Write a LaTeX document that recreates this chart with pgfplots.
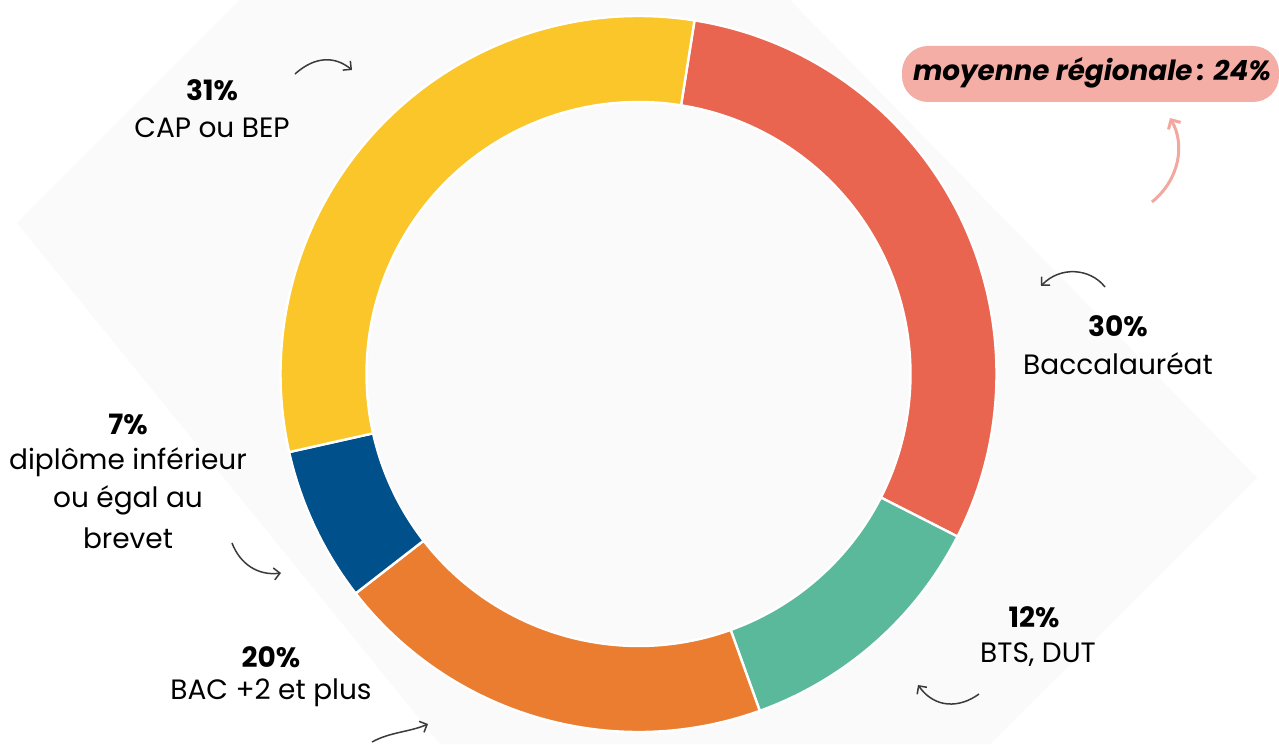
\documentclass[border=0pt]{standalone}
\usepackage{pgfplots}
\pgfplotsset{compat=1.18}
\usepackage{pgfplotstable}
\usetikzlibrary{arrows.meta}
\usepackage{fontspec}
\setmainfont{Poppins}

\definecolor{cred}{HTML}{E9654F}
\definecolor{cyellow}{HTML}{FAC62A}
\definecolor{cgreen}{HTML}{5BB99B}
\definecolor{corange}{HTML}{EA7D30}
\definecolor{cblue}{HTML}{00508B}
\definecolor{cpill}{HTML}{F5AEA5}
\definecolor{carrowpink}{HTML}{F2A89E}
\definecolor{bgshape}{HTML}{FAFAFA}
\definecolor{arrowgray}{HTML}{3A3A3A}

% share (%) of each category, clockwise from the top
\pgfplotstableread{
idx value
0 30
1 12
2 20
3 7
4 31
}\donutdata

\newcommand\donutwedge[3]{%
  \fill[overlay, #3, draw=white, line width=1.2pt]
    (axis cs:{638.5+358*cos(#1)},{370+358*sin(#1)})
    arc[start angle=#1, end angle=#2, radius=179pt]
    -- (axis cs:{638.5+272*cos(#2)},{370+272*sin(#2)})
    arc[start angle=#2, end angle=#1, radius=136pt] -- cycle;}

\newcommand\pct[1]{{\fontsize{14}{16}\selectfont\bfseries #1}}
\newcommand\lab[1]{{\fontsize{14}{16}\selectfont #1}}

\begin{document}
\begin{tikzpicture}
\pgfplotstablegetelem{0}{value}\of\donutdata \let\vA\pgfplotsretval
\pgfplotstablegetelem{1}{value}\of\donutdata \let\vB\pgfplotsretval
\pgfplotstablegetelem{2}{value}\of\donutdata \let\vC\pgfplotsretval
\pgfplotstablegetelem{3}{value}\of\donutdata \let\vD\pgfplotsretval
\pgfplotstablegetelem{4}{value}\of\donutdata \let\vE\pgfplotsretval
\pgfmathsetmacro\aZero{81}
\pgfmathsetmacro\aOne{\aZero-3.6*\vA}
\pgfmathsetmacro\aTwo{\aOne-3.6*\vB}
\pgfmathsetmacro\aThree{\aTwo-3.6*\vC}
\pgfmathsetmacro\aFour{\aThree-3.6*\vD}
\pgfmathsetmacro\aFive{\aFour-3.6*\vE}
\begin{axis}[x=0.5pt, y=0.5pt, xmin=0, xmax=1279, ymin=0, ymax=744,
  hide axis, clip=false]
  \fill[white] (axis cs:0,0) rectangle (axis cs:1279,744);
  \fill[bgshape, overlay] (axis cs:17,521) -- (axis cs:240,744) -- (axis cs:790,744)
     -- (axis cs:1257,266) -- (axis cs:990,0) -- (axis cs:440,0) -- cycle;

  \donutwedge{\aZero}{\aOne}{cred}
  \donutwedge{\aOne}{\aTwo}{cgreen}
  \donutwedge{\aTwo}{\aThree}{corange}
  \donutwedge{\aThree}{\aFour}{cblue}
  \donutwedge{\aFour}{\aFive}{cyellow}

  % labels
  \node at (axis cs:212,654) {\pct{31\%}};
  \node at (axis cs:212,616) {\lab{CAP ou BEP}};
  \node at (axis cs:1118,418) {\pct{30\%}};
  \node at (axis cs:1118,380) {\lab{Baccalauréat}};
  \node at (axis cs:128,320) {\pct{7\%}};
  \node at (axis cs:128,282) {\lab{diplôme inférieur}};
  \node at (axis cs:128,244) {\lab{ou égal au}};
  \node at (axis cs:128,206) {\lab{brevet}};
  \node at (axis cs:271,87) {\pct{20\%}};
  \node at (axis cs:271,51) {\lab{BAC +2 et plus}};
  \node at (axis cs:1034,127) {\pct{12\%}};
  \node at (axis cs:1038,89) {\lab{BTS, DUT}};

  % pill
  \fill[cpill, rounded corners=13pt] (axis cs:902,642) rectangle (axis cs:1279,698);
  \node[inner sep=0pt] at (axis cs:1092,671) {{\fontsize{13.9}{16}\selectfont\bfseries\itshape moyenne régionale\,: 24\%}};

  % hand-drawn arrows
  \begin{scope}[overlay, arrowgray, line width=0.75pt, -{Straight Barb[length=3pt,width=6pt]}]
    \draw (axis cs:295,670) .. controls (axis cs:315,688) and (axis cs:335,688) .. (axis cs:352,674);
    \draw (axis cs:1105,457) .. controls (axis cs:1090,476) and (axis cs:1060,478) .. (axis cs:1041,458);
    \draw (axis cs:232,201) .. controls (axis cs:240,180) and (axis cs:258,168) .. (axis cs:281,171);
    \draw (axis cs:372,2) .. controls (axis cs:390,12) and (axis cs:410,12) .. (axis cs:428,20);
    \draw (axis cs:979,50) .. controls (axis cs:960,36) and (axis cs:935,35) .. (axis cs:918,59);
  \end{scope}
  \draw[overlay, carrowpink, line width=1.5pt, -{Straight Barb[length=3.5pt,width=7pt]}]
    (axis cs:1152,542) .. controls (axis cs:1180,565) and (axis cs:1185,600) .. (axis cs:1170,626);
\end{axis}
\end{tikzpicture}
\end{document}
